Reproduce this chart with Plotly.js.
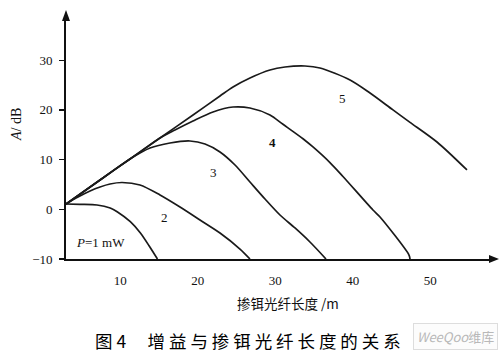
<!DOCTYPE html>
<html>
<head>
<meta charset="utf-8">
<script src="https://cdn.plot.ly/plotly-3.0.1.min.js"></script>
<style>html,body{margin:0;padding:0;background:#fff;}#chart{width:502px;height:357px;}</style>
</head>
<body>
<div id="chart"></div>
<script>
// Fibre length (m) and gain A (dB), curves 1..5
const len1 = [3.0, 4.8, 7.0, 8.7, 9.6, 11.3, 12.6, 13.8, 14.8];
const gain1 = [1.07, 1.0, 0.87, 0.26, -0.48, -2.5, -4.77, -7.53, -10];

const len2 = [3.0, 4.55, 6.1, 7.39, 8.68, 10.23, 12.55, 15.13, 17.71, 20.29, 22.87, 25.45, 26.74];
const gain2 = [1.07, 2.47, 3.68, 4.49, 5.09, 5.39, 4.89, 2.88, 0.46, -2.15, -4.77, -7.99, -10];

const len3 = [3.0, 7.39, 11.26, 13.84, 16.42, 19.0, 20.94, 22.87, 24.81, 26.74, 28.68, 30.61, 32.55, 34.48, 36.55];
const gain3 = [1.07, 5.9, 10.12, 12.33, 13.34, 13.74, 13.14, 11.53, 8.91, 5.49, 2.07, -1.15, -3.76, -6.58, -10];

const len4 = [3.0, 7.39, 11.26, 15.13, 17.06, 19.39, 21.97, 24.55, 26.74, 29.32, 31.0, 33.58, 34.87, 37.06, 38.74, 42.61, 43.52, 47.26, 47.39];
const gain4 = [1.07, 5.9, 10.12, 14.35, 15.96, 17.77, 19.58, 20.58, 20.38, 18.97, 17.1, 14.2, 12.54, 9.4, 6.6, -0.14, -1.55, -9.2, -10];

const len5 = [3.0, 7.39, 11.26, 15.13, 19.39, 22.87, 24.55, 26.74, 29.32, 31.26, 33.84, 35.77, 39.65, 42.23, 45.19, 47.39, 50.87, 54.74];
const gain5 = [1.07, 5.9, 10.12, 14.35, 18.97, 22.8, 24.61, 26.42, 28.03, 28.63, 28.83, 28.43, 26.02, 23.4, 20.0, 17.5, 13.54, 7.91];

const curveNames = ["1", "2", "3", "4", "5"];
const xTicks = [10, 20, 30, 40, 50];
const yTicks = [-10, 0, 10, 20, 30];

const serif = "Liberation Serif, serif";
const cjk = "Noto Sans CJK SC, sans-serif";
const lineStyle = {color: "#1a1a1a", width: 1.7, shape: "spline", smoothing: 0.8};

const xs = [len1, len2, len3, len4, len5];
const ys = [gain1, gain2, gain3, gain4, gain5];
const traces = xs.map((x, i) => ({
  x: x, y: ys[i], type: "scatter", mode: "lines", name: curveNames[i],
  line: lineStyle, hoverinfo: "skip"
}));

const labelFont = {family: serif, size: 13, color: "#111"};
// helper: pixel position -> paper fraction (plot area 66..492 x 16..259)
const px = v => (v - 66) / 426;
const py = v => (259 - v) / 243;

const layout = {
  width: 502, height: 357,
  margin: {l: 66, r: 10, t: 16, b: 98},
  paper_bgcolor: "#fff", plot_bgcolor: "#fff",
  showlegend: false,
  font: {family: serif},
  xaxis: {
    range: [3, 57.97], tickvals: xTicks, ticks: "", showgrid: false, zeroline: false,
    showline: true, linecolor: "#111", linewidth: 1.8,
    tickfont: {family: serif, size: 13, color: "#111"}, ticklabelstandoff: 9
  },
  yaxis: {
    range: [-10, 38.89], tickvals: yTicks, ticks: "outside", ticklen: 5, tickwidth: 1.3,
    tickcolor: "#111", showgrid: false, zeroline: false,
    showline: true, linecolor: "#111", linewidth: 1.8,
    tickfont: {family: serif, size: 13, color: "#111"}, ticklabelstandoff: 4
  },
  shapes: [
    {type: "path", xref: "paper", yref: "paper",
     path: "M 0.993 0.0165 L 1.0164 0 L 0.993 -0.0165 Z", fillcolor: "#111", line: {width: 0}},
    {type: "path", xref: "paper", yref: "paper",
     path: "M -0.0094 0.9794 L 0 1.0247 L 0.0094 0.9794 Z", fillcolor: "#111", line: {width: 0}}
  ],
  annotations: [
    {x: px(455), y: py(336), xref: "paper", yref: "paper", xanchor: "center", yanchor: "middle",
     text: "<i>WeeQoo</i>维库", showarrow: false,
     font: {family: cjk, size: 13, color: "#b8b8b8"},
     bgcolor: "rgba(245,245,245,0.35)", bordercolor: "#dddddd", borderwidth: 1, borderpad: 3},
    {x: 38.74, y: 22.39, xref: "x", yref: "y", text: curveNames[4], showarrow: false, font: labelFont},
    {x: 29.71, y: 13.34, xref: "x", yref: "y", text: "<b>" + curveNames[3] + "</b>", showarrow: false, font: labelFont},
    {x: 21.97, y: 7.5, xref: "x", yref: "y", text: curveNames[2], showarrow: false, font: labelFont},
    {x: 15.77, y: -1.55, xref: "x", yref: "y", text: curveNames[1], showarrow: false, font: labelFont},
    {x: 7.39, y: -6.58, xref: "x", yref: "y", text: "<i>P</i>=1 mW", showarrow: false, font: labelFont},
    {x: px(17), y: py(125), xref: "paper", yref: "paper", xanchor: "center", yanchor: "middle",
     text: "<i>A</i>/ dB", textangle: -90, showarrow: false,
     font: {family: serif, size: 14, color: "#111"}},
    {x: px(288), y: py(303), xref: "paper", yref: "paper", xanchor: "center", yanchor: "middle",
     text: "掺铒光纤长度 /m", showarrow: false,
     font: {family: cjk, size: 13.5, color: "#111"}},
    {x: px(248), y: py(340), xref: "paper", yref: "paper", xanchor: "center", yanchor: "middle",
     text: "图 4　 增 益 与 掺 铒 光 纤 长 度 的 关 系", showarrow: false,
     font: {family: cjk, size: 17.5, color: "#000"}}
  ]
};
Plotly.newPlot("chart", traces, layout, {staticPlot: true});
</script>
</body>
</html>
